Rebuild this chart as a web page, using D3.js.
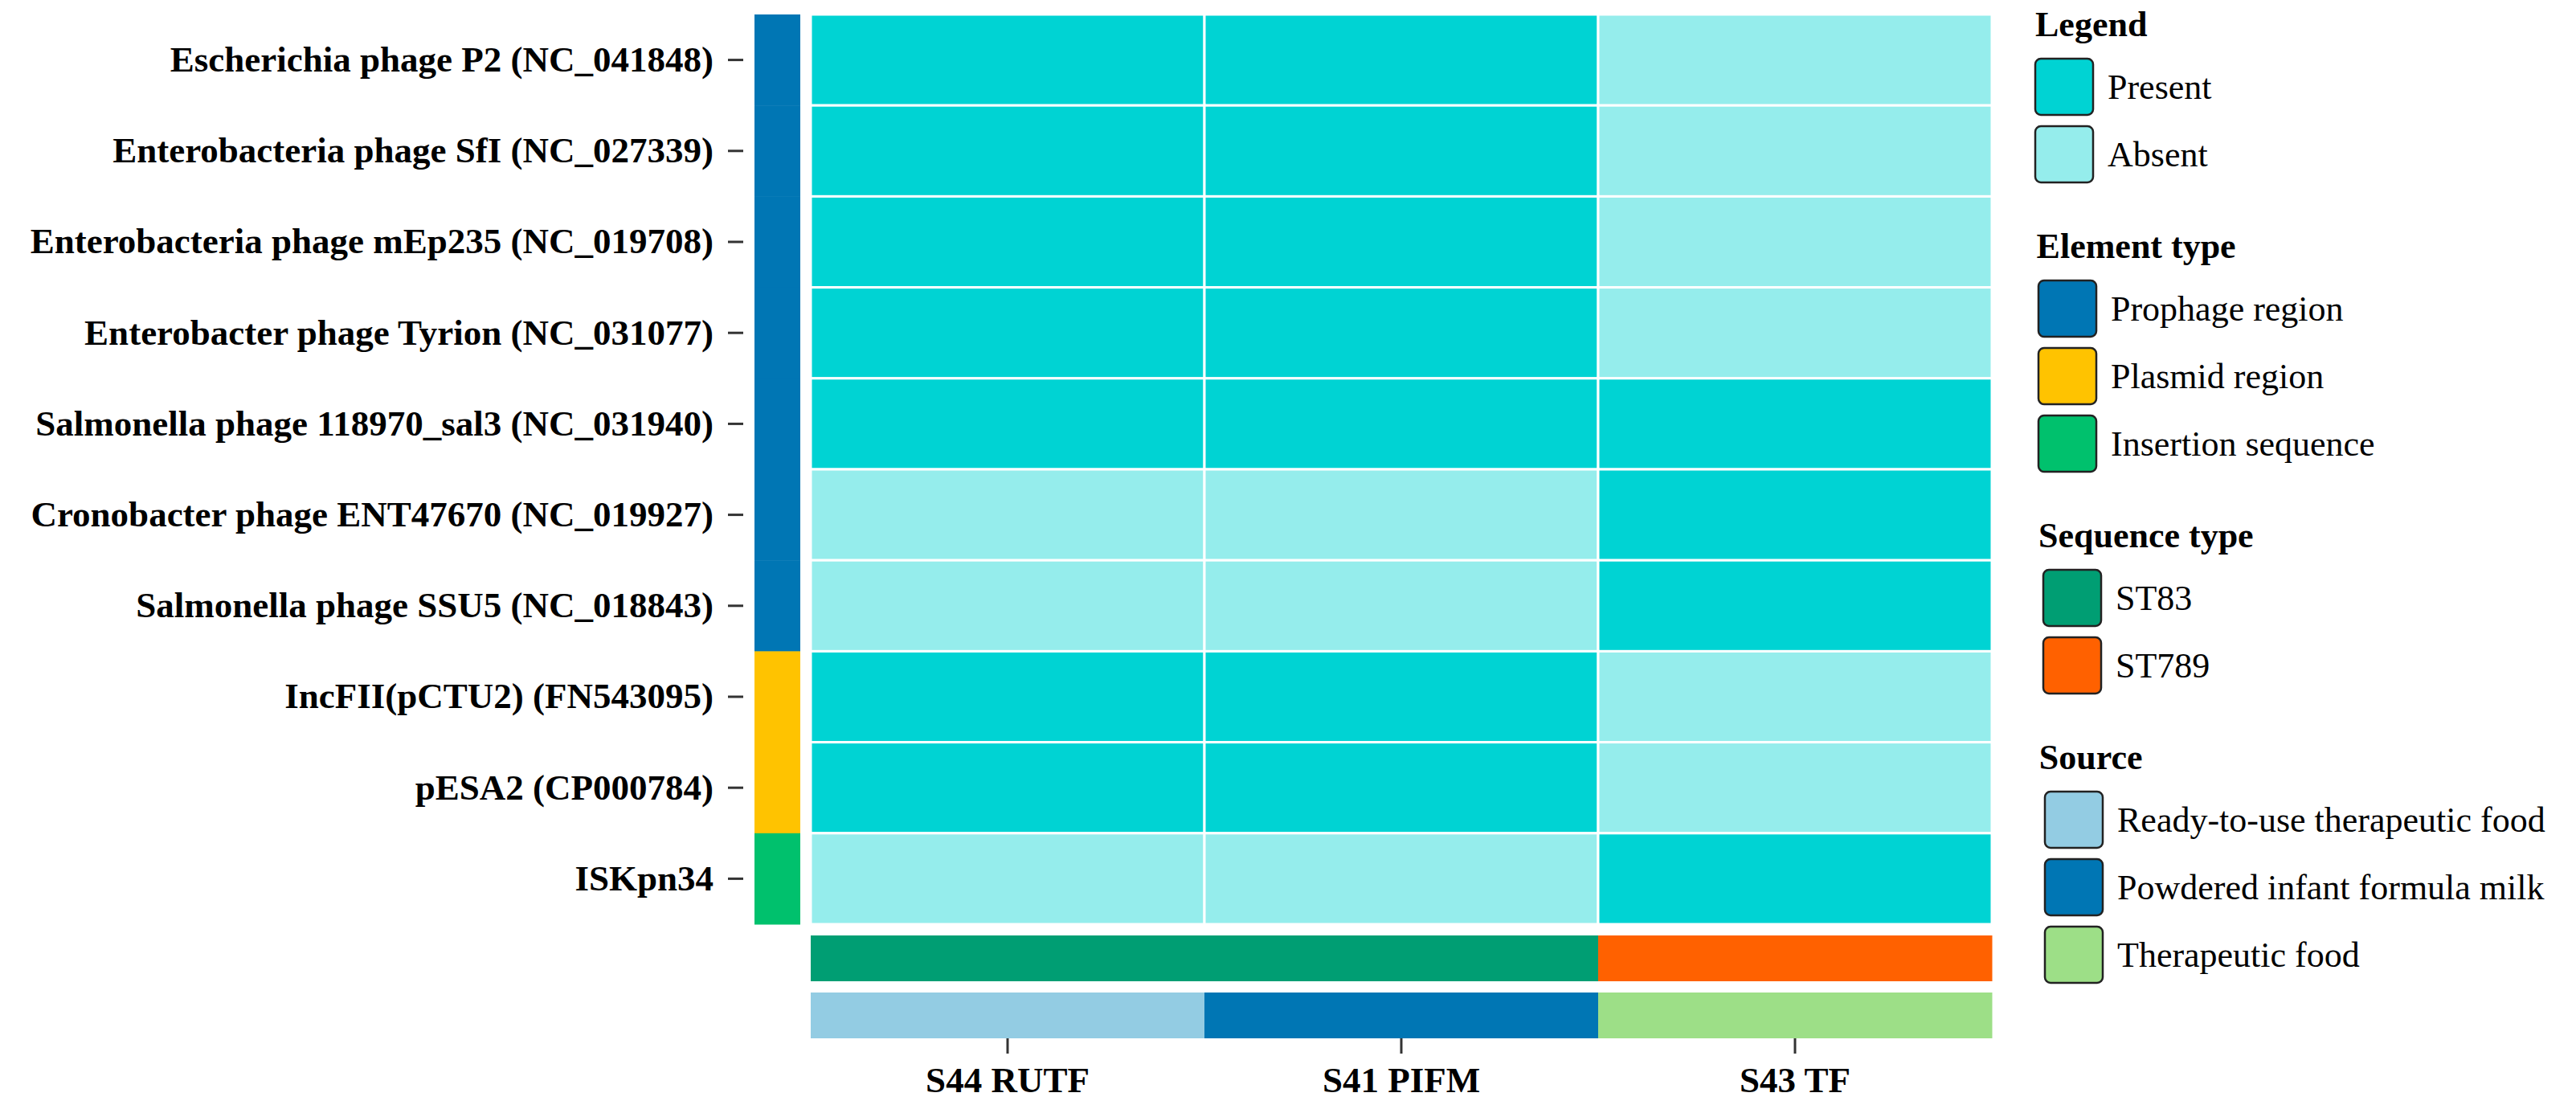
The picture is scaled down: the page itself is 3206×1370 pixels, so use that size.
<!DOCTYPE html>
<html>
<head>
<meta charset="utf-8">
<script src="https://cdn.jsdelivr.net/npm/d3@7"></script>
<style>
    body { margin: 0; background: #fff; }
    svg { display: block; }
</style>
</head>
<body>
<div id="chart"></div>
<script>
// rows of the heatmap (mobile elements)
const elements = [
    'Escherichia phage P2 (NC_041848)',
    'Enterobacteria phage SfI (NC_027339)',
    'Enterobacteria phage mEp235 (NC_019708)',
    'Enterobacter phage Tyrion (NC_031077)',
    'Salmonella phage 118970_sal3 (NC_031940)',
    'Cronobacter phage ENT47670 (NC_019927)',
    'Salmonella phage SSU5 (NC_018843)',
    'IncFII(pCTU2) (FN543095)',
    'pESA2 (CP000784)',
    'ISKpn34'
];

const samples = ['S44 RUTF', 'S41 PIFM', 'S43 TF'];

// presence per element, one entry per sample
const presence = [
    ['Present', 'Present', 'Absent'],
    ['Present', 'Present', 'Absent'],
    ['Present', 'Present', 'Absent'],
    ['Present', 'Present', 'Absent'],
    ['Present', 'Present', 'Present'],
    ['Absent', 'Absent', 'Present'],
    ['Absent', 'Absent', 'Present'],
    ['Present', 'Present', 'Absent'],
    ['Present', 'Present', 'Absent'],
    ['Absent', 'Absent', 'Present']
];

const elementTypes = [
    'Prophage region', 'Prophage region', 'Prophage region', 'Prophage region',
    'Prophage region', 'Prophage region', 'Prophage region',
    'Plasmid region', 'Plasmid region', 'Insertion sequence'
];
const sequenceTypes = ['ST83', 'ST83', 'ST789'];
const sources = ['Ready-to-use therapeutic food', 'Powdered infant formula milk', 'Therapeutic food'];

const statusLevels = ['Present', 'Absent'];
const statusColors = ['#00d3d3', '#95edec'];
const elementLevels = ['Prophage region', 'Plasmid region', 'Insertion sequence'];
const elementColors = ['#0076b4', '#ffc300', '#00c16d'];
const seqLevels = ['ST83', 'ST789'];
const seqColors = ['#009e73', '#ff6100'];
const sourceLevels = ['Ready-to-use therapeutic food', 'Powdered infant formula milk', 'Therapeutic food'];
const sourceColors = ['#93cce3', '#0076b4', '#9ddf87'];

const width = 3206;
const height = 1370;
const font = '"Liberation Serif", "Times New Roman", serif';

const svg = d3.select('#chart')
    .append('svg')
    .attr('width', width)
    .attr('height', height)
    .style('background', '#fff');

const y = d3.scaleBand()
    .domain(elements)
    .range([18, 1150]);

const x = d3.scaleBand()
    .domain(samples)
    .range([1009, 2479]);

const statusColor = d3.scaleOrdinal().domain(statusLevels).range(statusColors);
const elementColor = d3.scaleOrdinal().domain(elementLevels).range(elementColors);
const seqColor = d3.scaleOrdinal().domain(seqLevels).range(seqColors);
const sourceColor = d3.scaleOrdinal().domain(sourceLevels).range(sourceColors);

// heatmap cells
const cells = [];
elements.forEach((el, i) => {
    samples.forEach((s, j) => {
        cells.push({ el, s, v: presence[i][j] });
    });
});

svg.append('g')
    .selectAll('rect')
    .data(cells)
    .enter()
    .append('rect')
    .attr('x', d => x(d.s))
    .attr('y', d => y(d.el))
    .attr('width', x.bandwidth())
    .attr('height', y.bandwidth())
    .attr('fill', d => statusColor(d.v))
    .attr('stroke', '#fff')
    .attr('stroke-width', 3);

// element type bar on the left
svg.append('g')
    .selectAll('rect')
    .data(elements)
    .enter()
    .append('rect')
    .attr('x', 939)
    .attr('y', d => y(d))
    .attr('width', 57)
    .attr('height', y.bandwidth() + 0.5)
    .attr('fill', (d, i) => elementColor(elementTypes[i]));

// sequence type + source bars below
svg.append('g')
    .selectAll('rect')
    .data(samples)
    .enter()
    .append('rect')
    .attr('x', d => x(d))
    .attr('y', 1164)
    .attr('width', x.bandwidth() + 0.5)
    .attr('height', 57)
    .attr('fill', (d, i) => seqColor(sequenceTypes[i]));

svg.append('g')
    .selectAll('rect')
    .data(samples)
    .enter()
    .append('rect')
    .attr('x', d => x(d))
    .attr('y', 1235)
    .attr('width', x.bandwidth() + 0.5)
    .attr('height', 57)
    .attr('fill', (d, i) => sourceColor(sources[i]));

// axes
const yAxis = svg.append('g')
    .attr('transform', 'translate(925,0)')
    .call(d3.axisLeft(y).tickSize(19).tickPadding(18));

const xAxis = svg.append('g')
    .attr('transform', 'translate(0,1292)')
    .call(d3.axisBottom(x).tickSize(19).tickPadding(16));

[yAxis, xAxis].forEach(ax => {
    ax.select('.domain').remove();
    ax.selectAll('.tick line')
        .attr('stroke', '#333')
        .attr('stroke-width', 3);
    ax.selectAll('.tick text')
        .attr('fill', '#000')
        .style('font-family', font)
        .style('font-weight', 'bold')
        .style('font-size', '45px');
});

// legends
const legendGroups = [
    { title: 'Legend', levels: statusLevels, colors: statusColors, dx: 0 },
    { title: 'Element type', levels: elementLevels, colors: elementColors, dx: 4 },
    { title: 'Sequence type', levels: seqLevels, colors: seqColors, dx: 10 },
    { title: 'Source', levels: sourceLevels, colors: sourceColors, dx: 12 }
];

const legend = svg.append('g')
    .attr('transform', 'translate(2533,0)');

let yPos = 45;
legendGroups.forEach(group => {
    legend.append('text')
        .attr('x', group.dx * 0.4)
        .attr('y', yPos)
        .style('font-family', font)
        .style('font-weight', 'bold')
        .style('font-size', '44px')
        .text(group.title);

    group.levels.forEach((lvl, i) => {
        const top = yPos + 28 + i * 84;
        legend.append('rect')
            .attr('x', group.dx)
            .attr('y', top)
            .attr('width', 72)
            .attr('height', 70)
            .attr('rx', 7)
            .attr('fill', group.colors[i])
            .attr('stroke', '#222')
            .attr('stroke-width', 2.5);

        legend.append('text')
            .attr('x', group.dx + 90)
            .attr('y', top + 50)
            .style('font-family', font)
            .style('font-size', '44px')
            .text(lvl);
    });

    yPos += 28 + (group.levels.length - 1) * 84 + 70 + 94;
});
</script>
</body>
</html>
